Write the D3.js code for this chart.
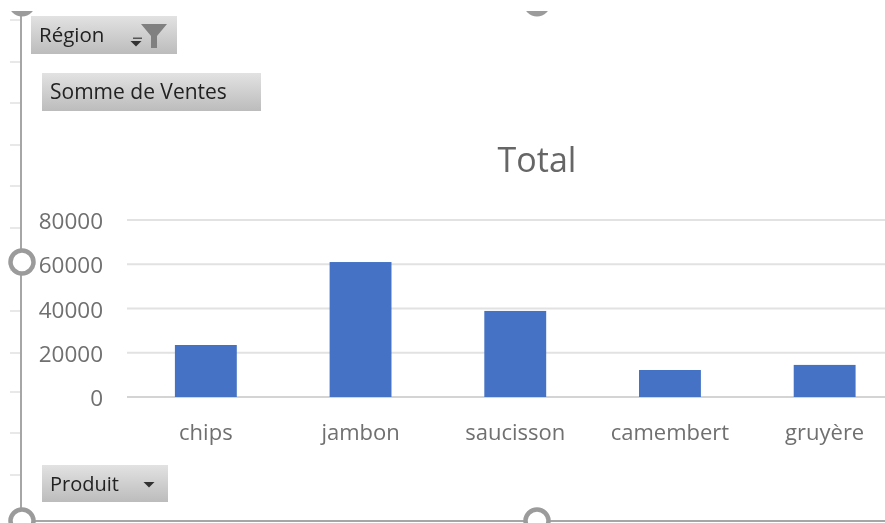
<!DOCTYPE html>
<html>
<head>
<meta charset="utf-8">
<script src="https://cdn.jsdelivr.net/npm/d3@7"></script>
<style>
  html, body { margin:0; padding:0; background:#fff; }
  text { font-family:"Open Sans", sans-serif; }
</style>
</head>
<body>
<div id="canvas"></div>
<script>
// --- data
var produits = ['chips','jambon','saucisson','camembert','gruyère'];
var ventes = [23500,61000,38900,12200,14500];
var yTicks = [0,20000,40000,60000,80000];
var titre = 'Total';
var champRegion = 'Région';
var champValeur = 'Somme de Ventes';
var champProduit = 'Produit';

var width = 885, height = 523;

var svg = d3.select('#canvas')
    .append('svg')
    .attr('width', width)
    .attr('height', height)
    .style('display','block');

var defs = svg.append('defs');
var grad = defs.append('linearGradient')
    .attr('id','btn')
    .attr('x1',0).attr('y1',0).attr('x2',0).attr('y2',1);
grad.append('stop').attr('offset','0%').attr('stop-color','#e2e2e2');
grad.append('stop').attr('offset','100%').attr('stop-color','#bcbcbc');
defs.append('filter').attr('id','soft')
    .append('feGaussianBlur').attr('stdDeviation',0.55);
// the top 11px of the picture stay blank, the frame is cut there
defs.append('clipPath').attr('id','cut')
    .append('rect').attr('x',0).attr('y',11).attr('width',width).attr('height',height);

var root = svg.append('g').attr('filter','url(#soft)');

// --- scales
var x = d3.scaleBand().domain(produits).range([128.5,902]).paddingInner(0.6).paddingOuter(0.3);
var y = d3.scaleLinear().domain([0,80000]).range([397,220]);

// --- gridlines
root.append('g').selectAll('line')
    .data(yTicks)
    .enter().append('line')
    .attr('x1',127).attr('x2',885)
    .attr('y1',function(d){ return y(d); })
    .attr('y2',function(d){ return y(d); })
    .style('stroke', function(d){ return d === 0 ? '#d4d4d4' : '#e2e2e2'; })
    .style('stroke-width',2);

// --- y axis labels
var yAxis = d3.axisLeft(y).tickValues(yTicks).tickSize(0).tickPadding(0).tickFormat(d3.format('d'));
var yG = root.append('g').attr('transform','translate(103,1.5)').call(yAxis);
yG.select('.domain').remove();
yG.selectAll('text').style('font-size','22.5px').style('fill','#6f6f6f').attr('font-family',null);

// --- bars
root.append('g').selectAll('rect')
    .data(ventes)
    .enter().append('rect')
    .attr('x',function(d,i){ return x(produits[i]); })
    .attr('width',x.bandwidth())
    .attr('y',function(d){ return y(d); })
    .attr('height',function(d){ return y(0)-y(d); })
    .style('fill','#4472c4');

// --- category labels
var xAxis = d3.axisBottom(x).tickSize(0).tickPadding(0);
var xG = root.append('g').attr('transform','translate(0,424)').call(xAxis);
xG.select('.domain').remove();
xG.selectAll('text').style('font-size','22px').style('fill','#6f6f6f').attr('font-family',null);

// --- title
root.append('text')
    .attr('x',537).attr('y',172)
    .attr('text-anchor','middle')
    .style('font-size','34px')
    .style('fill','#666')
    .text(titre);

// --- selection frame of the chart
var frameTicks = [20,62,103,145,186,228,270,311,353,392,433,475];
root.append('g').selectAll('line')
    .data(frameTicks)
    .enter().append('line')
    .attr('x1',10).attr('x2',21)
    .attr('y1',function(d){ return d; })
    .attr('y2',function(d){ return d; })
    .style('stroke','#e0e0e0')
    .style('stroke-width',1.5);

root.append('line').attr('x1',21).attr('x2',21).attr('y1',11).attr('y2',521)
    .style('stroke','#a6a6a6').style('stroke-width',2);
root.append('line').attr('x1',21).attr('x2',885).attr('y1',521).attr('y2',521)
    .style('stroke','#a6a6a6').style('stroke-width',2);

var handles = [[22,262],[22,521],[537,521]];
root.append('g').selectAll('circle')
    .data(handles)
    .enter().append('circle')
    .attr('cx',function(d){ return d[0]; })
    .attr('cy',function(d){ return d[1]; })
    .attr('r',11.5)
    .style('fill','#fff')
    .style('stroke','#9b9b9b')
    .style('stroke-width',4.5);

// handles at the top edge, only their lower rim is left
var topHandles = [[22,3],[537,3]];
root.append('g').attr('clip-path','url(#cut)').selectAll('circle')
    .data(topHandles)
    .enter().append('circle')
    .attr('cx',function(d){ return d[0]; })
    .attr('cy',function(d){ return d[1]; })
    .attr('r',13.5)
    .style('fill','#9b9b9b');

// --- pivot field buttons
function bouton(bx, by, bw, bh, label, taille) {
    var g = root.append('g');
    g.append('rect')
        .attr('x',bx).attr('y',by).attr('width',bw).attr('height',bh)
        .style('fill','url(#btn)');
    g.append('text')
        .attr('x',bx+8).attr('y',by+bh/2+7)
        .style('font-size',taille+'px')
        .style('fill','#222')
        .text(label);
    return g;
}
function fleche(g, cx, cy) {
    g.append('path')
        .attr('d','M'+(cx-5.5)+','+cy+'L'+(cx+5.5)+','+cy+'L'+cx+','+(cy+5.5)+'Z')
        .style('fill','#333');
}

var bRegion = bouton(31,16,146,38,champRegion,20.5);
fleche(bRegion,136,41);
bRegion.append('rect').attr('x',133).attr('y',37.5).attr('width',9).attr('height',1.5).style('fill','#555');
bRegion.append('path')
    .attr('d','M141,24L167,24L157,36L157,48L151,48L151,36Z')
    .style('fill','#808080');

bouton(42,73,219,38,champValeur,21);

var bProduit = bouton(42,465,126,37,champProduit,20);
fleche(bProduit,149,482);
</script>
</body>
</html>
